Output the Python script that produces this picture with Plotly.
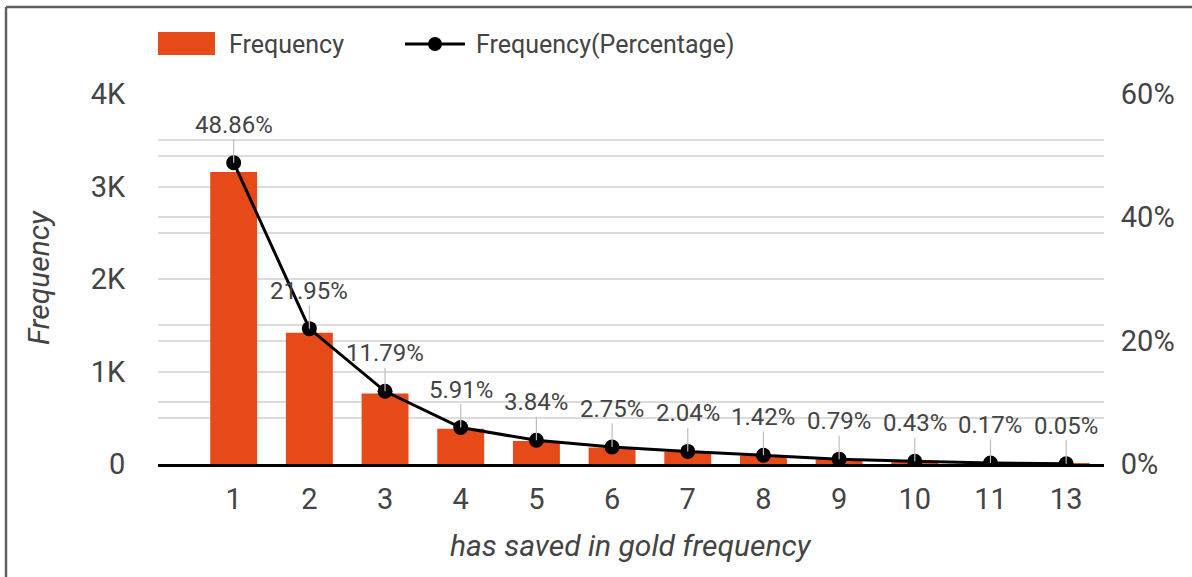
import plotly.graph_objects as go

# Frequency table: how often respondents have saved in gold
categories = ["1", "2", "3", "4", "5", "6", "7", "8", "9", "10", "11", "13"]
counts = [3157, 1418, 762, 382, 248, 178, 132, 92, 51, 28, 11, 3]
percentages = [48.86, 21.95, 11.79, 5.91, 3.84, 2.75, 2.04, 1.42, 0.79, 0.43, 0.17, 0.05]

left_tickvals = [0, 1000, 2000, 3000, 4000]
left_ticktext = ["0", "1K", "2K", "3K", "4K"]
right_tickvals = [0, 0.2, 0.4, 0.6]
right_ticktext = ["0%", "20%", "40%", "60%"]

BAR_COLOR = "#E64A19"
TEXT_COLOR = "#444444"
GRID_COLOR = "#dcdcdc"
FONT = "Roboto"

W, H = 1192, 577
L, R, T, B = 158, 1104, 94, 464  # plot area in pixels


def px(x):
    return (x - L) / (R - L)


def py(y):
    return (B - y) / (B - T)


fig = go.Figure()

fig.add_trace(go.Bar(
    x=categories, y=counts, name="Frequency",
    marker=dict(color=BAR_COLOR, line=dict(width=0)),
    width=0.62, yaxis="y", showlegend=False,
))

fraction = [p / 100 for p in percentages]
fig.add_trace(go.Scatter(
    x=categories, y=fraction, name="Frequency(Percentage)",
    mode="lines+markers", yaxis="y2",
    line=dict(color="black", width=3),
    marker=dict(color="black", size=15),
    showlegend=False,
))

annotations = []
# value labels above each point (category position given by index)
for i, (f, p) in enumerate(zip(fraction, percentages)):
    annotations.append(dict(
        x=i, y=f, xref="x", yref="y2",
        text=f"{p:.2f}%", showarrow=True,
        ax=0, ay=-38, arrowhead=0, arrowwidth=1.2, arrowcolor="#bdbdbd",
        font=dict(family=FONT, size=24, color=TEXT_COLOR),
        borderpad=0, xanchor="center", yanchor="middle",
    ))

# axis titles
annotations.append(dict(
    x=px(38), y=py(278), xref="paper", yref="paper",
    xanchor="center", yanchor="middle",
    text="<i>Frequency</i>", textangle=-90, showarrow=False,
    font=dict(family=FONT, size=30, color=TEXT_COLOR),
))
annotations.append(dict(
    x=px(631), y=py(545), xref="paper", yref="paper",
    xanchor="center", yanchor="middle",
    text="<i>has saved in gold frequency</i>", showarrow=False,
    font=dict(family=FONT, size=30, color=TEXT_COLOR),
))

# legend
annotations.append(dict(
    x=px(227), y=py(44), xref="paper", yref="paper",
    xanchor="left", yanchor="middle",
    text="Frequency", showarrow=False,
    font=dict(family=FONT, size=25, color=TEXT_COLOR),
))
annotations.append(dict(
    x=px(474), y=py(44), xref="paper", yref="paper",
    xanchor="left", yanchor="middle",
    text="Frequency(Percentage)", showarrow=False,
    font=dict(family=FONT, size=25, color=TEXT_COLOR),
))

shapes = [
    # legend swatches
    dict(type="rect", xref="paper", yref="paper",
         x0=px(158), x1=px(215), y0=py(55), y1=py(32),
         fillcolor=BAR_COLOR, line=dict(width=0)),
    dict(type="line", xref="paper", yref="paper",
         x0=px(405), x1=px(465), y0=py(44), y1=py(44),
         line=dict(color="black", width=3)),
    dict(type="circle", xref="paper", yref="paper",
         xsizemode="pixel", ysizemode="pixel",
         xanchor=px(435), yanchor=py(44),
         x0=-7, x1=7, y0=-7, y1=7,
         fillcolor="black", line=dict(width=0)),
    # outer frame (top and left edges)
    dict(type="line", xref="paper", yref="paper",
         x0=px(6), x1=px(W + 5), y0=py(7), y1=py(7),
         line=dict(color="#606060", width=2.5)),
    dict(type="line", xref="paper", yref="paper",
         x0=px(6), x1=px(6), y0=py(7), y1=py(H + 5),
         line=dict(color="#606060", width=2.5)),
]

fig.update_layout(
    width=W, height=H,
    margin=dict(l=L, r=W - R, t=T, b=H - B, pad=0),
    paper_bgcolor="white", plot_bgcolor="white",
    font=dict(family=FONT, color=TEXT_COLOR),
    bargap=0.38,
    xaxis=dict(
        type="category", range=[-1, 11.5],
        showline=True, linecolor="black", linewidth=2.5,
        showgrid=False, zeroline=False,
        ticks="outside", ticklen=7, tickcolor="rgba(0,0,0,0)",
        tickfont=dict(family=FONT, size=29, color=TEXT_COLOR),
    ),
    yaxis=dict(
        range=[0, 4000], tickvals=left_tickvals, ticktext=left_ticktext,
        showgrid=True, gridcolor=GRID_COLOR, gridwidth=1.5,
        zeroline=False, showline=False,
        ticks="outside", ticklen=26, tickcolor="rgba(0,0,0,0)",
        tickfont=dict(family=FONT, size=29, color=TEXT_COLOR),
        minor=dict(tickvals=[500, 1500, 2500, 3500], showgrid=True,
                   gridcolor=GRID_COLOR, gridwidth=1.5, ticks=""),
    ),
    yaxis2=dict(
        range=[0, 0.6], tickvals=right_tickvals, ticktext=right_ticktext,
        overlaying="y", side="right",
        showgrid=True, gridcolor=GRID_COLOR, gridwidth=1.5,
        zeroline=False, showline=False,
        ticks="outside", ticklen=10, tickcolor="rgba(0,0,0,0)",
        tickfont=dict(family=FONT, size=29, color=TEXT_COLOR),
        minor=dict(tickvals=[0.1, 0.3, 0.5], showgrid=True,
                   gridcolor=GRID_COLOR, gridwidth=1.5, ticks=""),
    ),
    annotations=annotations,
    shapes=shapes,
)

fig.write_html("out.html")
